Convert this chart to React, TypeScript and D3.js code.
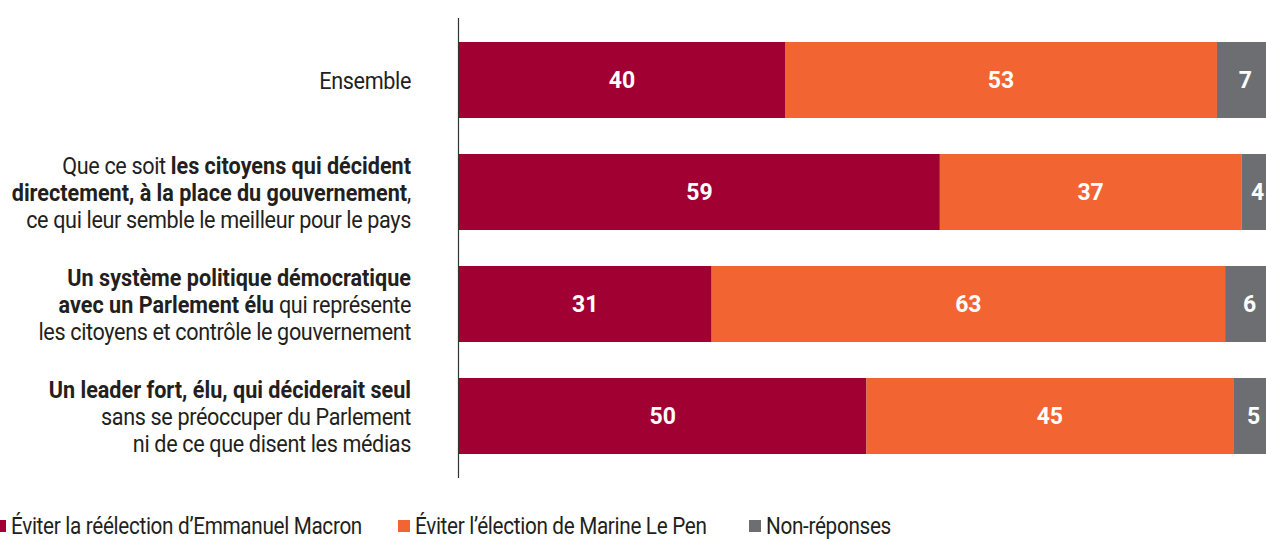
import React from 'react';
import * as d3 from 'd3';

// catégories (questions) : lignes de texte, segments [texte, gras]
const categories: [string, boolean][][][] = [
  [[['Ensemble', false]]],
  [
    [['Que ce soit ', false], ['les citoyens qui décident', true]],
    [['directement, à la place du gouvernement', true], [',', false]],
    [['ce qui leur semble le meilleur pour le pays', false]],
  ],
  [
    [['Un système politique démocratique', true]],
    [['avec un Parlement élu', true], [' qui représente', false]],
    [['les citoyens et contrôle le gouvernement', false]],
  ],
  [
    [['Un leader fort, élu, qui déciderait seul', true]],
    [['sans se préoccuper du Parlement', false]],
    [['ni de ce que disent les médias', false]],
  ],
];

const seriesNames = [
  "Éviter la réélection d’Emmanuel Macron",
  "Éviter l’élection de Marine Le Pen",
  'Non-réponses',
];
const macron = [40, 59, 31, 50];
const lepen = [53, 37, 63, 45];
const nonrep = [7, 4, 6, 5];
const colors = ['#A00032', '#F26532', '#6D6E71'];

const W = 1266;
const H = 539;
const FONT = 'Roboto, "Liberation Sans", sans-serif';
const SQUEEZE = 0.9;

export default function App() {
  const x = d3.scaleLinear().domain([0, 100]).range([459, 1274]);
  const y = d3.scaleBand<number>()
    .domain(d3.range(categories.length))
    .range([14, 482])
    .paddingInner(0.3214)
    .paddingOuter(0.25);
  const series = [macron, lepen, nonrep];
  const stack = d3.stack<number>().keys(['0', '1', '2']).value((i, k) => series[+k][i]);
  const stacked = stack(d3.range(categories.length));
  const lineH = 27;

  const legendX = [-6, 398, 749];

  return (
    <div style={{ position: 'absolute', left: 0, top: 0 }}>
      <svg width={W} height={H} style={{ display: 'block', fontFamily: FONT }}>
        {stacked.map((layer, si) => (
          <g key={si}>
            {layer.map((d, i) => (
              <g key={i}>
                <rect x={x(d[0])} y={y(i)} width={x(d[1]) - x(d[0])} height={y.bandwidth()} fill={colors[si]} />
                <text
                  x={(x(d[0]) + x(d[1])) / 2}
                  y={(y(i) as number) + y.bandwidth() / 2}
                  dy="0.36em"
                  textAnchor="middle"
                  fill="#fff"
                  fontWeight="bold"
                  fontSize={23}
                >
                  {series[si][i]}
                </text>
              </g>
            ))}
          </g>
        ))}
        <line x1={458.5} x2={458.5} y1={18} y2={478} stroke="#333" strokeWidth={1.2} />
        {categories.map((lines, i) => {
          const cy = (y(i) as number) + y.bandwidth() / 2;
          const top = cy - ((lines.length - 1) * lineH) / 2;
          return (
            <g key={i} transform={`translate(411,0) scale(${SQUEEZE},1)`}>
              <text textAnchor="end" fontSize={24} fill="#231F20">
                {lines.map((parts, li) => (
                  <tspan key={li} x={0} y={top + li * lineH} dy="0.36em">
                    {parts.map(([t, b], pi) => (
                      <tspan key={pi} fontWeight={b ? 'bold' : 'normal'} letterSpacing={b ? 0 : -0.4}>{t}</tspan>
                    ))}
                  </tspan>
                ))}
              </text>
            </g>
          );
        })}
        {seriesNames.map((name, i) => (
          <g key={i}>
            <rect x={legendX[i]} y={520} width={12} height={12} fill={colors[i]} />
            <g transform={`translate(${legendX[i] + 17},0) scale(${SQUEEZE},1)`}>
              <text x={0} y={526} dy="0.36em" fontSize={23} letterSpacing={-0.35} fill="#231F20">{name}</text>
            </g>
          </g>
        ))}
      </svg>
    </div>
  );
}
